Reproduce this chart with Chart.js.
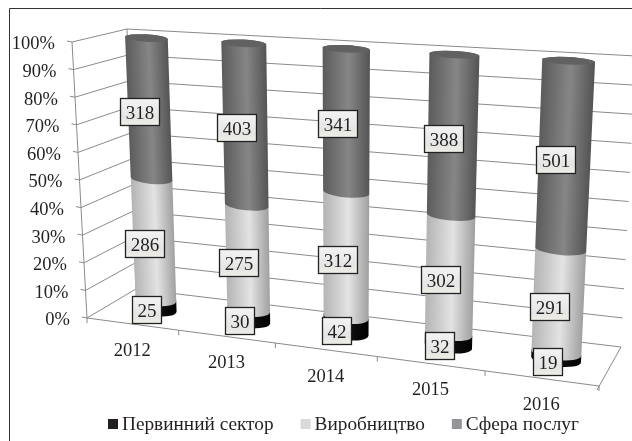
<!DOCTYPE html>
<html>
<head>
<meta charset="utf-8">
<title>Зайнятість за секторами</title>
<script src="https://cdn.jsdelivr.net/npm/chart.js@4/dist/chart.umd.min.js"></script>
<style>
html, body { margin: 0; padding: 0; background: #fff; }
canvas { display: block; }
</style>
</head>
<body>
<canvas id="chart" width="632" height="441"></canvas>
<script>
const categories = ['2012', '2013', '2014', '2015', '2016'];
const primarySector = [25, 30, 42, 32, 19];
const manufacturing = [286, 275, 312, 302, 291];
const services = [318, 403, 341, 388, 501];

const seriesNames = ['Первинний сектор', 'Виробництво', 'Сфера послуг'];
const seriesValues = [primarySector, manufacturing, services];
const legendColors = ['#231f20', '#d9dadb', '#939598'];
// left / centre / right colours of the cylinders
const sideColors = [['#000000', '#111111', '#000000'], ['#b4b4b4', '#e3e3e3', '#a0a0a0'], ['#5c5c5c', '#868686', '#555555']];
const capColor = '#616161';

const FONT = '19px "Liberation Serif"';
const LEGEND_FONT = '19.3px "Liberation Serif"';
const AXIS_FONT = '18.5px "Liberation Serif"';
const gridColor = '#8a8a8a';

// corners of the 3d box as seen on the page
const box = {
    frontLeftBottom: [87, 318], frontLeftTop: [72, 42],
    backLeftBottom: [136, 289], backLeftTop: [127, 29],
    backRightBottom: [621, 347], backRightTop: [636, 56],
    frontRightBottom: [599, 386], frontRightTop: [620, 72]
};

function mid(a, b) { return [(a[0] + b[0]) / 2, (a[1] + b[1]) / 2]; }
function lerp(a, b, t) { return [a[0] + (b[0] - a[0]) * t, a[1] + (b[1] - a[1]) * t]; }

// homography from the unit square to a quad (p0 u0v0, p1 u1v0, p2 u1v1, p3 u0v1)
function makeQuad(p0, p1, p2, p3) {
    const dx1 = p1[0] - p2[0], dx2 = p3[0] - p2[0], sx = p0[0] - p1[0] + p2[0] - p3[0];
    const dy1 = p1[1] - p2[1], dy2 = p3[1] - p2[1], sy = p0[1] - p1[1] + p2[1] - p3[1];
    const det = dx1 * dy2 - dx2 * dy1;
    const g = (sx * dy2 - dx2 * sy) / det;
    const h = (dx1 * sy - sx * dy1) / det;
    const a = p1[0] - p0[0] + g * p1[0], b = p3[0] - p0[0] + h * p3[0], c = p0[0];
    const d = p1[1] - p0[1] + g * p1[1], e = p3[1] - p0[1] + h * p3[1], f = p0[1];
    return (u, v) => {
        const w = g * u + h * v + 1;
        return [(a * u + b * v + c) / w, (d * u + e * v + f) / w];
    };
}

const midRightBottom = mid(box.frontRightBottom, box.backRightBottom);
const midPlane = makeQuad(
    mid(box.frontLeftBottom, box.backLeftBottom), [midRightBottom[0] + 2, midRightBottom[1]],
    mid(box.frontRightTop, box.backRightTop), mid(box.frontLeftTop, box.backLeftTop));
const frontPlane = makeQuad(box.frontLeftBottom, box.frontRightBottom, box.frontRightTop, box.frontLeftTop);

function line(ctx, a, b) {
    ctx.beginPath();
    ctx.moveTo(a[0], a[1]);
    ctx.lineTo(b[0], b[1]);
    ctx.stroke();
}

const walls = {
    id: 'walls',
    beforeDatasetsDraw(chart) {
        const ctx = chart.ctx, yScale = chart.scales.y, xScale = chart.scales.x, area = chart.chartArea;
        ctx.save();

        ctx.strokeStyle = '#333';
        ctx.lineWidth = 1;
        ctx.beginPath();
        ctx.moveTo(9.5, 441);
        ctx.lineTo(9.5, 8.5);
        ctx.lineTo(632, 8.5);
        ctx.stroke();

        ctx.strokeStyle = gridColor;
        ctx.font = AXIS_FONT;
        ctx.fillStyle = '#231f20';
        ctx.textBaseline = 'middle';
        ctx.textAlign = 'right';
        yScale.ticks.forEach(tick => {
            const v = (area.bottom - yScale.getPixelForValue(tick.value)) / area.height;
            const front = lerp(box.frontLeftBottom, box.frontLeftTop, v);
            const back = lerp(box.backLeftBottom, box.backLeftTop, v);
            const right = lerp(box.backRightBottom, box.backRightTop, v);
            line(ctx, [front[0] - 5, front[1] - 1], front);
            line(ctx, front, back);
            line(ctx, back, right);
            ctx.fillText(tick.label, front[0] - 17, front[1] + 2.5);
        });
        line(ctx, box.frontLeftBottom, box.frontLeftTop);
        line(ctx, box.backLeftBottom, box.backLeftTop);

        // floor
        line(ctx, box.frontLeftBottom, box.frontRightBottom);
        line(ctx, box.backRightBottom, [box.frontRightBottom[0] - 2, box.frontRightBottom[1] + 4]);
        line(ctx, box.frontLeftBottom, [box.frontLeftBottom[0], box.frontLeftBottom[1] + 5]);

        ctx.textAlign = 'center';
        categories.forEach((label, i) => {
            const left = (xScale.getPixelForValue(i) - xScale.width / categories.length / 2 - area.left) / area.width;
            const tick = frontPlane(left + 1 / categories.length, 0);
            line(ctx, tick, [tick[0], tick[1] + 5]);
            const u = (xScale.getPixelForValue(i) - area.left) / area.width;
            const p = frontPlane(u, 0);
            ctx.fillText(label, p[0], p[1] + 27);
        });
        ctx.restore();
    }
};

function toScreen(area, x, y) {
    return midPlane((x - area.left) / area.width, (area.bottom - y) / area.height);
}

function ring(area, bar, y) {
    const left = toScreen(area, bar.x - bar.width / 2, y);
    const right = toScreen(area, bar.x + bar.width / 2, y);
    const v = (area.bottom - y) / area.height;
    return {
        left: left,
        right: right,
        cx: (left[0] + right[0]) / 2,
        cy: (left[1] + right[1]) / 2,
        rx: Math.hypot(right[0] - left[0], right[1] - left[1]) / 2,
        ry: 7 - 3.3 * v,
        rot: Math.atan2(right[1] - left[1], right[0] - left[0])
    };
}

// cylinders on top of the bar elements the library laid out
const cylinders = {
    id: 'cylinders',
    afterDatasetsDraw(chart) {
        const ctx = chart.ctx, area = chart.chartArea;
        ctx.save();
        categories.forEach((cat, i) => {
            let topRing = null;
            seriesValues.forEach((vals, s) => {
                const bar = chart.getDatasetMeta(s).data[i];
                const low = ring(area, bar, bar.base);
                const high = ring(area, bar, bar.y);
                // shading runs across the slanted bar, not across the page
                const ax = high.cx - low.cx, ay = high.cy - low.cy, len = Math.hypot(ax, ay) || 1;
                const nx = -ay / len * low.rx, ny = ax / len * low.rx;
                const g = ctx.createLinearGradient(low.cx - nx, low.cy - ny, low.cx + nx, low.cy + ny);
                g.addColorStop(0, sideColors[s][0]);
                g.addColorStop(0.55, sideColors[s][1]);
                g.addColorStop(1, sideColors[s][2]);
                ctx.fillStyle = g;
                ctx.beginPath();
                ctx.ellipse(low.cx, low.cy, low.rx, low.ry, low.rot, Math.PI, 0, true);
                // upper edge goes round the back so the next segment overlaps it
                ctx.ellipse(high.cx, high.cy, high.rx, high.ry, high.rot, 0, Math.PI, true);
                ctx.closePath();
                ctx.fill();
                topRing = high;
            });
            ctx.fillStyle = capColor;
            ctx.beginPath();
            ctx.ellipse(topRing.cx, topRing.cy, topRing.rx, topRing.ry, topRing.rot, 0, Math.PI * 2);
            ctx.fill();
        });

        // value boxes
        ctx.font = FONT;
        ctx.textAlign = 'center';
        ctx.textBaseline = 'middle';
        categories.forEach((cat, i) => {
            seriesValues.forEach((vals, s) => {
                const bar = chart.getDatasetMeta(s).data[i];
                const centerY = (bar.y + bar.base) / 2;
                const p = toScreen(area, bar.x, centerY);
                const v = (area.bottom - centerY) / area.height;
                const text = String(vals[i]);
                const w = Math.round(ctx.measureText(text).width + 10), h = 27;
                const bx = Math.round(p[0] - 9 - w / 2) + 0.5;
                const by = Math.round(p[1] + 5.5 - 4 * v - h / 2) + 0.5;
                const g = ctx.createLinearGradient(0, by, 0, by + h);
                g.addColorStop(0, '#f3f3f3');
                g.addColorStop(0.7, '#e5e5e4');
                g.addColorStop(1, '#efeee6');
                ctx.fillStyle = g;
                ctx.fillRect(bx, by, w, h);
                ctx.strokeStyle = '#222';
                ctx.lineWidth = 1.3;
                ctx.strokeRect(bx, by, w, h);
                ctx.fillStyle = '#231f20';
                ctx.fillText(text, bx + w / 2, by + h / 2 + 2);
            });
        });
        ctx.restore();
    }
};

// legend with a tighter box-to-text gap than the built-in one
const bottomLegend = {
    id: 'bottomLegend',
    afterDraw(chart) {
        const ctx = chart.ctx;
        ctx.save();
        ctx.font = LEGEND_FONT;
        ctx.textAlign = 'left';
        ctx.textBaseline = 'middle';
        const widths = chart.data.datasets.map(d => ctx.measureText(d.label).width);
        const total = widths.reduce((a, b) => a + b + 14, 0) + 27 * (widths.length - 1);
        let x = Math.round(343.5 - total / 2);
        chart.data.datasets.forEach((d, s) => {
            ctx.fillStyle = legendColors[s];
            ctx.fillRect(x, 419, 10, 10);
            ctx.fillStyle = '#231f20';
            ctx.fillText(d.label, x + 14, 425);
            x += 14 + widths[s] + 27;
        });
        ctx.restore();
    }
};

const totals = categories.map((c, i) => primarySector[i] + manufacturing[i] + services[i]);

new Chart(document.getElementById('chart').getContext('2d'), {
    type: 'bar',
    data: {
        labels: categories,
        datasets: seriesValues.map((vals, s) => ({
            label: seriesNames[s],
            data: vals.map((v, i) => v / totals[i] * 100),
            backgroundColor: 'rgba(0,0,0,0)',
            borderWidth: 0,
            barPercentage: 0.45,
            categoryPercentage: 1
        }))
    },
    options: {
        responsive: false,
        animation: false,
        layout: { padding: 0 },
        plugins: { legend: { display: false }, tooltip: { enabled: false } },
        scales: {
            x: { stacked: true, display: false, offset: true },
            y: {
                stacked: true,
                display: false,
                min: 0,
                max: 100,
                ticks: { stepSize: 10, callback: v => v + '%' }
            }
        }
    },
    plugins: [walls, cylinders, bottomLegend]
});
</script>
</body>
</html>
